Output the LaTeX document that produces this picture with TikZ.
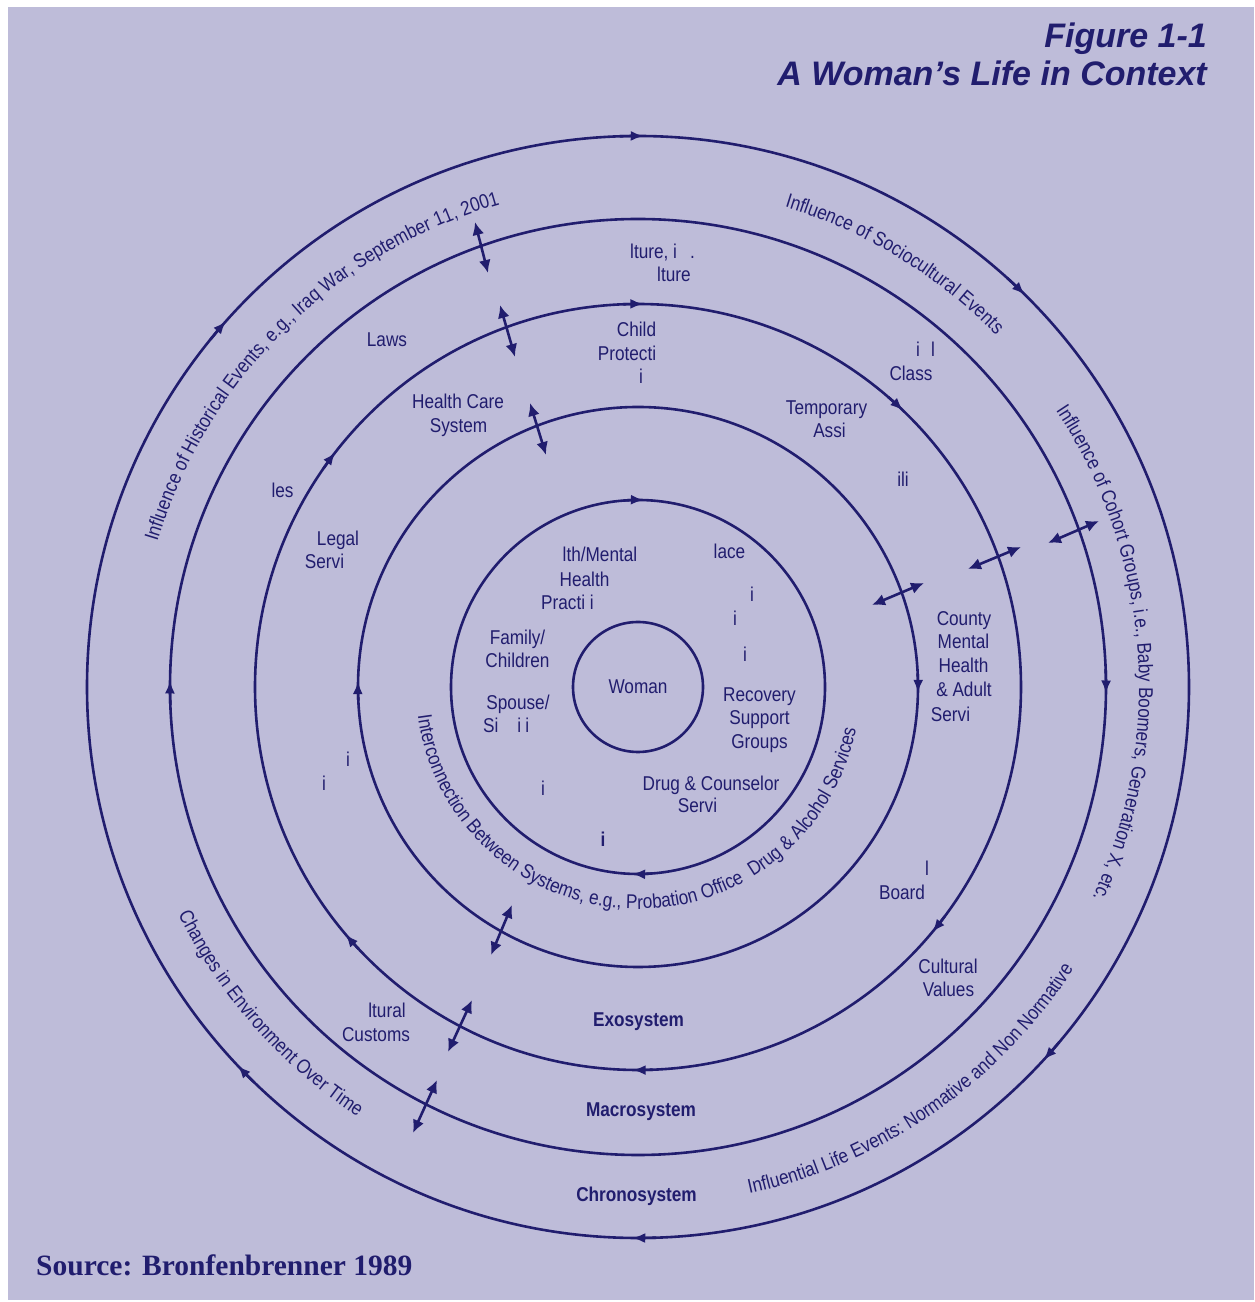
\documentclass[tikz,border=0pt]{standalone}
\usepackage{fontspec}
\setmainfont{Liberation Sans}[FakeStretch=0.86]
\newfontfamily\titlefont{Liberation Sans}
\newfontfamily\srcfont{Liberation Serif}
\usetikzlibrary{arrows.meta,decorations.text}
\definecolor{bgl}{RGB}{190,188,217}
\definecolor{navy}{RGB}{33,29,110}
\newcommand\lblfont{\fontsize{20}{23.5}\selectfont}
\begin{document}
\begin{tikzpicture}[x=1pt,y=1pt,>={Latex[length=13pt,width=10pt]},
  ring/.style={color=navy, line width=2.6pt},
  dbl/.style={color=navy, line width=2.6pt, {Latex[length=13pt,width=12pt]}-{Latex[length=13pt,width=12pt]}},
  lbl/.style={font=\lblfont, text=navy, inner sep=0pt, anchor=base},
  sys/.style={lbl, font=\lblfont\bfseries},
  curv/.style={decorate}]
\useasboundingbox (0,0) rectangle (1254,1302);
\fill[white] (0,0) rectangle (1254,1302);
\fill[bgl] (8,2) rectangle (1254,1295);
\coordinate (C) at (638,615);

% rings
\draw[ring] (C) circle[radius=551];
\draw[ring] (C) circle[radius=468];
\draw[ring] (C) circle[radius=383];
\draw[ring] (C) circle[radius=280];
\draw[ring] (C) circle[radius=187];
\node[circle, draw=navy, line width=2.6pt, minimum size=130pt, inner sep=0pt,
  font=\lblfont, text=navy] (woman) at (C) {Woman};

% clockwise arrowheads on the rings
\foreach \a in {89.4,45.4,-42.6,-90.6,223.4,138.4}
  \draw[ring, ->] ([shift={(C)}]\a+2.5:551) arc[start angle=\a+2.5, end angle=\a, radius=551];
\foreach \a in {-0.8,179.2}
  \draw[ring, ->] ([shift={(C)}]\a+3:468) arc[start angle=\a+3, end angle=\a, radius=468];
\foreach \a in {89.2,46.2,-39.8,-90.8,220.2,142.2}
  \draw[ring, ->] ([shift={(C)}]\a+3:383) arc[start angle=\a+3, end angle=\a, radius=383];
\foreach \a in {-1.2,178.8}
  \draw[ring, ->] ([shift={(C)}]\a+4:280) arc[start angle=\a+4, end angle=\a, radius=280];
\foreach \a in {88.2,-91.8}
  \draw[ring, ->] ([shift={(C)}]\a+6:187) arc[start angle=\a+6, end angle=\a, radius=187];

% curved texts
\path[curv, decoration={text along path, text color=navy,
  text={|\lblfont|Influence of Historical Events, e.g., Iraq War, September 11, 2001}}]
  ([shift={(C)}]163.2:502) arc[start angle=163.2, end angle=95, radius=502];
\path[curv, decoration={text along path, text color=navy,
  text={|\lblfont|Influence of Sociocultural Events}}]
  ([shift={(C)}]73:502) arc[start angle=73, end angle=30, radius=502];
\path[curv, decoration={text along path, text color=navy,
  text={|\lblfont|Influence of Cohort Groups, i.e., Baby Boomers, Generation X, etc.}}]
  ([shift={(C)}]33.5:501) arc[start angle=33.5, end angle=-45, radius=501];
\path[curv, decoration={text along path, text color=navy,
  text={|\lblfont|Influential Life Events: Normative and Non Normative}}]
  ([shift={(C)}]-77.6:519) arc[start angle=-77.6, end angle=-20, radius=519];
\path[curv, decoration={text along path, text color=navy,
  text={|\lblfont|Changes in Environment Over Time}}]
  ([shift={(C)}]206.3:513) arc[start angle=206.3, end angle=260, radius=513];
\path[curv, decoration={text along path, text color=navy,
  text={|\lblfont|Interconnection Between Systems, e.g., Probation Office {\hspace*{5pt}}Drug {\&} Alcohol Services}}]
  ([shift={(C)}]187.4:222) arc[start angle=187.4, end angle=365, radius=222];

% labels
\node[lbl, anchor=base west] (cult1) at (630,1043) {lture, i\hspace{13pt}.};
\node[lbl, anchor=base west] (cult2) at (657,1020) {lture};
\node[lbl] (child1) at (636.5,965) {Child};
\node[lbl] (child2) at (627,941) {Protecti};
\node[lbl] (child3) at (641,918) {i};
\node[lbl] (laws) at (387,955) {Laws};
\node[lbl] (hc1) at (458,893) {Health Care};
\node[lbl] (hc2) at (458.5,869) {System};
\node[lbl] (temp1) at (826.5,887) {Temporary};
\node[lbl] (temp2) at (829.5,864) {Assi};
\node[lbl, anchor=base west] (class1) at (916,945) {i\hspace{11pt}l};
\node[lbl] (class2) at (911,921) {Class};
\node[lbl] (ili) at (903,815) {ili};
\node[lbl] (les) at (282.5,804) {les};
\node[lbl] (legal1) at (338,756) {Legal};
\node[lbl] (legal2) at (324.5,733) {Servi};
\node[lbl] (mh1) at (600,740) {lth/Mental};
\node[lbl] (mh2) at (584.5,715) {Health};
\node[lbl, anchor=base west] (mh3) at (541,692) {Practi i};
\node[lbl] (lace) at (729.5,743) {lace};
\node[lbl] (wi1) at (752,700) {i};
\node[lbl] (wi2) at (735,676) {i};
\node[lbl] (wi3) at (745,640) {i};
\node[lbl] (fam1) at (517.5,657) {Family/};
\node[lbl] (fam2) at (517.5,634) {Children};
\node[lbl] (sp1) at (518,592) {Spouse/};
\node[lbl, anchor=base west] (sp2) at (483,569) {Si\hspace{19pt}i\hspace{4pt}i};
\node[lbl] (rec1) at (759.5,600) {Recovery};
\node[lbl] (rec2) at (759.5,577) {Support};
\node[lbl] (rec3) at (759.5,553) {Groups};
\node[lbl] (mi1) at (543,506) {i};
\node[lbl] (drug1) at (711,511) {Drug \& Counselor};
\node[lbl] (drug2) at (697.5,489) {Servi};
\node[lbl, font=\lblfont\bfseries] (mi2) at (603,455) {i};
\node[lbl] (ei1) at (348,535) {i};
\node[lbl] (ei2) at (324,511) {i};
\node[lbl] (cty1) at (964,676) {County};
\node[lbl] (cty2) at (963.5,653) {Mental};
\node[lbl] (cty3) at (963.5,629) {Health};
\node[lbl] (cty4) at (964,605) {\& Adult};
\node[lbl] (cty5) at (950.5,580) {Servi};
\node[lbl] (brd1) at (927,426) {l};
\node[lbl] (brd2) at (902,402) {Board};
\node[lbl] (cv1) at (948,328) {Cultural};
\node[lbl] (cv2) at (948.5,305) {Values};
\node[lbl] (cc1) at (387,284) {ltural};
\node[lbl] (cc2) at (376,260) {Customs};
\node[sys] (exo) at (638.5,275) {Exosystem};
\node[sys] (macro) at (641,185) {Macrosystem};
\node[sys] (chrono) at (636.5,100) {Chronosystem};

% double arrows
\coordinate (d1a) at (475,1080); \coordinate (d1b) at (488,1029);
\coordinate (d2a) at (500,997);  \coordinate (d2b) at (515,945);
\coordinate (d3a) at (530,899);  \coordinate (d3b) at (546,847);
\coordinate (d4a) at (1048,759); \coordinate (d4b) at (1099,781);
\coordinate (d5a) at (968,733);  \coordinate (d5b) at (1021,755);
\coordinate (d6a) at (872,697);  \coordinate (d6b) at (924,719);
\coordinate (d7a) at (491,347);  \coordinate (d7b) at (512,397);
\coordinate (d8a) at (448,250);  \coordinate (d8b) at (472,302);
\coordinate (d9a) at (413,169);  \coordinate (d9b) at (437,222);
\draw[dbl] (d1a) -- (d1b);
\draw[dbl] (d2a) -- (d2b);
\draw[dbl] (d3a) -- (d3b);
\draw[dbl] (d4a) -- (d4b);
\draw[dbl] (d5a) -- (d5b);
\draw[dbl] (d6a) -- (d6b);
\draw[dbl] (d7a) -- (d7b);
\draw[dbl] (d8a) -- (d8b);
\draw[dbl] (d9a) -- (d9b);

% title and source
\node[anchor=base east, inner sep=0pt, text=navy,
  font=\titlefont\bfseries\itshape\fontsize{34}{40}\selectfont] (fig) at (1207,1254) {Figure 1-1};
\node[anchor=base east, inner sep=0pt, text=navy,
  font=\titlefont\bfseries\itshape\fontsize{34}{40}\selectfont] (ttl) at (1207,1216) {A Woman’s Life in Context};
\node[anchor=base west, inner sep=0pt, text=navy,
  font=\srcfont\bfseries\fontsize{29.5}{34}\selectfont] (src) at (36,26) {Source: Bronfenbrenner 1989};
\end{tikzpicture}
\end{document}
